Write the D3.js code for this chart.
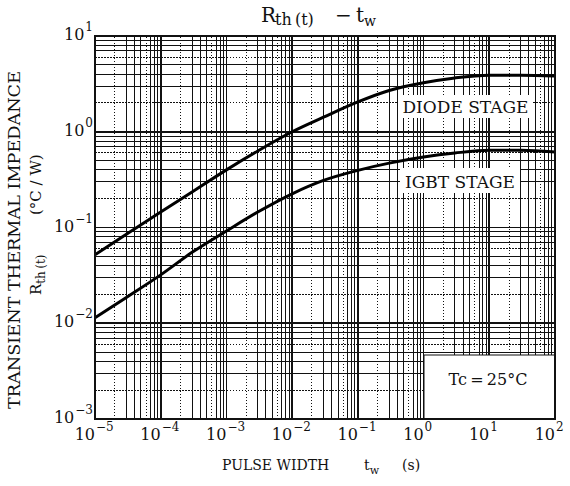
<!DOCTYPE html>
<html lang="en">
<head>
    <meta charset="UTF-8">
    <title>Rth(t) - tw</title>
    <style>
        body{ margin:0; background:#fff; }
        svg{ display:block; }
        text{ font-family: "DejaVu Serif", "Liberation Serif", serif; fill:#111; }
        .grid line{ stroke:#111; shape-rendering:crispEdges; }
        .grid .major{ stroke-width:1.8px; }
        .grid .minor{ stroke-width:1px; }
        .grid .dot{ stroke-dasharray:1.5 1.5; stroke-width:1px; }
        .frame{ fill:none; stroke:#111; stroke-width:2px; }
        .curve{ fill:none; stroke:#000; stroke-width:3px; }
        .ticklab{ font-size:16px; }
        .ticklab .exp{ font-size:12px; }
    </style>
    <script src="https://cdn.jsdelivr.net/npm/d3@7"></script>
</head>
<body>
<script>
    // pulse width (s)
    const tw = [1e-5, 3e-5, 1e-4, 3e-4, 1e-3, 3e-3, 1e-2, 3e-2, 1e-1, 3e-1, 1, 3, 10, 30, 100];
    // thermal impedance (degC/W)
    const diode = [0.052, 0.085, 0.145, 0.235, 0.40, 0.63, 1.0, 1.42, 2.05, 2.7, 3.25, 3.65, 3.9, 3.9, 3.82];
    const igbt  = [0.0114, 0.0186, 0.032, 0.055, 0.092, 0.145, 0.225, 0.31, 0.395, 0.47, 0.545, 0.60, 0.64, 0.64, 0.615];

    const xDecades = [-5, -4, -3, -2, -1, 0, 1, 2];
    const yDecades = [-3, -2, -1, 0, 1];

    const width = 570, height = 486;
    const margins = {top:36, bottom:67, left:95, right:15};

    const svg = d3.select("body").append("svg")
        .attr("width", width).attr("height", height);

    const xScale = d3.scaleLog()
        .domain([1e-5, 1e2])
        .range([margins.left, width - margins.right]);
    const yScale = d3.scaleLog()
        .domain([1e-3, 1e1])
        .range([height - margins.bottom, margins.top]);

    // grid values 1..9 per decade
    const gridVals = (decs) => {
        const out = [];
        decs.slice(0, -1).forEach(e => {
            for (let k = 1; k < 10; k++) out.push({v: k * Math.pow(10, e), k: k});
        });
        return out;
    };
    const cls = d => d.k === 1 ? "major" : (d.k === 2 || d.k === 6 ? "dot" : "minor");

    const grid = svg.append("g").attr("class", "grid");
    grid.selectAll(".vx").data(gridVals(xDecades)).enter()
        .append("line")
        .attr("class", cls)
        .attr("x1", d => xScale(d.v)).attr("x2", d => xScale(d.v))
        .attr("y1", yScale.range()[0]).attr("y2", yScale.range()[1]);
    grid.selectAll(".hy").data(gridVals(yDecades)).enter()
        .append("line")
        .attr("class", cls)
        .attr("y1", d => yScale(d.v)).attr("y2", d => yScale(d.v))
        .attr("x1", xScale.range()[0]).attr("x2", xScale.range()[1]);

    // curves
    const line = d3.line()
        .x(d => xScale(d[0]))
        .y(d => yScale(d[1]))
        .curve(d3.curveMonotoneX);

    svg.append("path").attr("class", "curve")
        .attr("d", line(tw.map((t, i) => [t, diode[i]])));
    svg.append("path").attr("class", "curve")
        .attr("d", line(tw.map((t, i) => [t, igbt[i]])));

    // labels over the grid
    const labels = [
        {text: "DIODE STAGE", x: 398, y: 95, w: 135, h: 23},
        {text: "IGBT STAGE", x: 400, y: 168, w: 120, h: 25}
    ];
    labels.forEach(l => {
        svg.append("rect").attr("x", l.x).attr("y", l.y)
            .attr("width", l.w).attr("height", l.h).attr("fill", "#fff");
        svg.append("text").attr("x", l.x + l.w / 2).attr("y", l.y + l.h - 5)
            .attr("text-anchor", "middle").style("font-size", "17px")
            .text(l.text);
    });

    // Tc box
    svg.append("rect")
        .attr("x", 424).attr("y", 355)
        .attr("width", xScale.range()[1] - 424).attr("height", yScale.range()[0] - 355)
        .attr("fill", "#fff").attr("stroke", "#111").attr("stroke-width", 1);
    svg.append("text").attr("x", 488).attr("y", 385)
        .attr("text-anchor", "middle").style("font-size", "16px")
        .text("Tc\u2009=\u200925°C");

    svg.append("rect").attr("class", "frame")
        .attr("x", margins.left).attr("y", margins.top)
        .attr("width", width - margins.left - margins.right)
        .attr("height", height - margins.top - margins.bottom);

    const expText = e => e < 0 ? "\u2212" + (-e) : String(e);

    // x tick labels: "10" ends at the tick, exponent after it
    const xt = svg.append("g").attr("class", "ticklab")
        .selectAll("g").data(xDecades).enter().append("g")
        .attr("transform", e => `translate(${xScale(Math.pow(10, e))},440)`);
    xt.append("text").attr("text-anchor", "end").attr("x", 0).text("10");
    xt.append("text").attr("class", "exp").attr("x", 1).attr("y", -9).text(expText);

    // y tick labels: right aligned to the frame
    const yt = svg.append("g").attr("class", "ticklab")
        .selectAll("g").data(yDecades).enter().append("g")
        .attr("transform", e => `translate(${margins.left - 2},${yScale(Math.pow(10, e)) + 4})`);
    yt.append("text").attr("class", "exp").attr("text-anchor", "end").attr("y", -9).text(expText);
    yt.each(function() {
        const g = d3.select(this);
        const w = g.select(".exp").node().getComputedTextLength();
        g.append("text").attr("text-anchor", "end").attr("x", -w - 1).text("10");
    });

    // title
    const title = svg.append("text").attr("x", 261).attr("y", 22).style("font-size", "20px");
    title.append("tspan").text("R");
    title.append("tspan").attr("x", 275).attr("dy", 3).style("font-size", "16px").text("th\u2009(t)");
    title.append("tspan").attr("x", 335).attr("dy", -3).text("\u2212");
    title.append("tspan").attr("x", 356).text("t");
    title.append("tspan").attr("dy", 4).style("font-size", "14px").text("w");

    // x label
    const xl = svg.append("text").attr("x", 222).attr("y", 470).style("font-size", "14px");
    xl.append("tspan").text("PULSE WIDTH");
    xl.append("tspan").attr("x", 364).text("t");
    xl.append("tspan").attr("dy", 4).style("font-size", "11px").text("w");
    xl.append("tspan").attr("x", 402).attr("dy", -4).text("(s)");

    // y label
    svg.append("text")
        .attr("transform", "translate(20,240) rotate(-90)")
        .attr("text-anchor", "middle").style("font-size", "16px")
        .attr("textLength", 338).attr("lengthAdjust", "spacingAndGlyphs")
        .text("TRANSIENT THERMAL IMPEDANCE");
    const yl = svg.append("text")
        .attr("transform", "translate(41,295) rotate(-90)")
        .style("font-size", "15px");
    yl.append("tspan").text("R");
    yl.append("tspan").attr("dy", 4).style("font-size", "12px").text("th\u2009(t)");
    yl.append("tspan").attr("x", 80).attr("dy", -4).text("(°C / W)");
</script>
</body>
</html>
